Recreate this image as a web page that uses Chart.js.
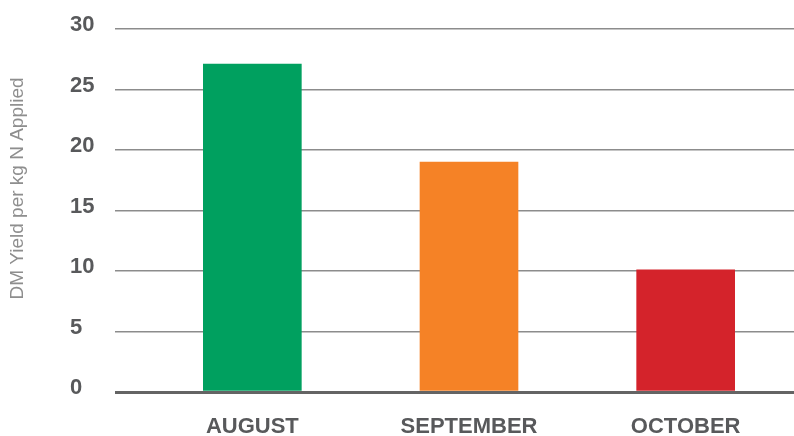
<!DOCTYPE html>
<html>
<head>
<meta charset="utf-8">
<script src="https://cdn.jsdelivr.net/npm/chart.js@4/dist/chart.umd.min.js"></script>
<style>
  html, body { margin: 0; padding: 0; background: #ffffff; }
  #wrap { width: 794px; height: 436px; }
</style>
</head>
<body>
<div id="wrap"><canvas id="c" width="794" height="436"></canvas></div>
<script>
const months = ['AUGUST', 'SEPTEMBER', 'OCTOBER'];
const yieldPerKgN = [27.1, 19.0, 10.1];
const barColors = ['#00a05f', '#f58226', '#d4232b'];
const yTicks = [0, 5, 10, 15, 20, 25, 30];
const yTitle = 'DM Yield per kg N Applied';

const tickColor = '#58595b';

const yTitlePlugin = {
  id: 'yTitle',
  afterDraw(chart) {
    const ctx = chart.ctx;
    const area = chart.chartArea;
    ctx.save();
    ctx.translate(18, area.top + (area.bottom - area.top) / 2 - 22);
    ctx.rotate(-Math.PI / 2);
    ctx.font = '19px "Liberation Sans", Arial, sans-serif';
    ctx.fillStyle = '#8e8e8e';
    ctx.textAlign = 'center';
    ctx.textBaseline = 'middle';
    ctx.fillText(yTitle, 0, 0);
    ctx.restore();
  }
};

new Chart(document.getElementById('c'), {
  type: 'bar',
  data: {
    labels: months,
    datasets: [{
      data: yieldPerKgN,
      backgroundColor: barColors,
      borderWidth: 0,
      barThickness: 98
    }]
  },
  options: {
    responsive: false,
    animation: false,
    devicePixelRatio: 1,
    layout: { padding: { top: 29, left: 70, right: 0, bottom: 0 } },
    plugins: { legend: { display: false }, tooltip: { enabled: false } },
    scales: {
      x: {
        z: 1,
        grid: { display: false, drawTicks: false },
        border: { display: true, color: '#646464', width: 3 },
        ticks: {
          color: tickColor,
          padding: 22,
          font: { family: '"Liberation Sans", Arial, sans-serif', weight: 'bold', size: 22 }
        },
        afterFit(scale) { scale.height = 44; }
      },
      y: {
        min: 0,
        max: 30,
        afterBuildTicks(scale) { scale.ticks = yTicks.map(v => ({ value: v })); },
        afterFit(scale) { scale.width = 74; },
        border: { display: false },
        grid: {
          drawTicks: true,
          tickLength: 29,
          lineWidth: ctx => (ctx.tick && ctx.tick.value === 0) ? 3 : 1.5,
          color: ctx => (ctx.tick && ctx.tick.value === 0) ? '#646464' : '#8c8c8c'
        },
        ticks: {
          crossAlign: 'far',
          labelOffset: -4,
          color: tickColor,
          font: { family: '"Liberation Sans", Arial, sans-serif', weight: 'bold', size: 22 }
        }
      }
    }
  },
  plugins: [yTitlePlugin]
});
</script>
</body>
</html>
